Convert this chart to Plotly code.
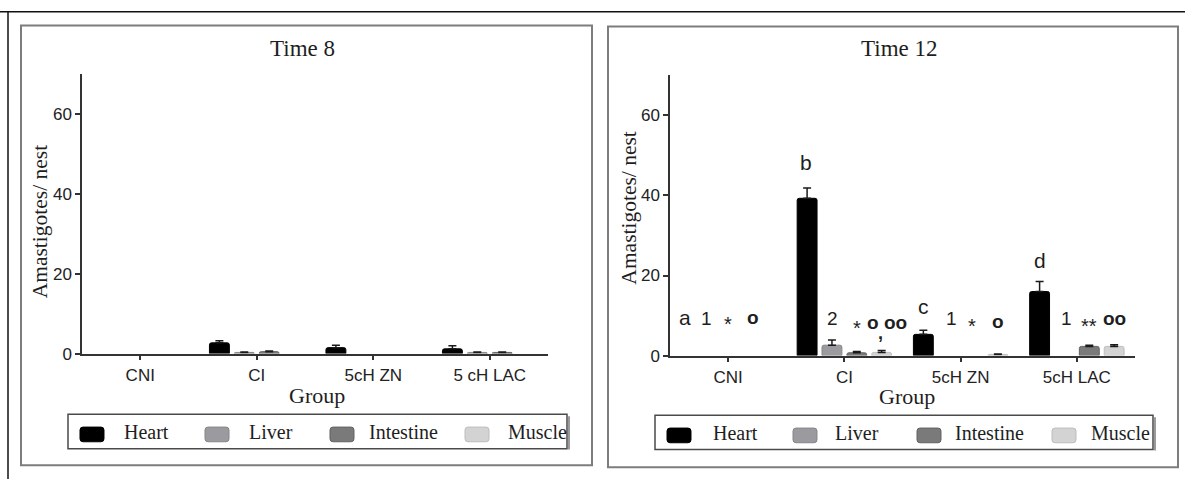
import plotly.graph_objects as go

W, H = 1185, 489

# ---------------- data ----------------
groups_t8 = ["CNI", "CI", "5cH ZN", "5 cH LAC"]
groups_t12 = ["CNI", "CI", "5cH ZN", "5cH LAC"]
tissues = ["Heart", "Liver", "Intestine", "Muscle"]

# Time 8 (mean, upper SEM)
heart_t8 = [None, 2.7, 1.5, 1.2]
heart_t8_err = [None, 0.5, 0.6, 0.8]
liver_t8 = [None, 0.3, None, 0.3]
liver_t8_err = [None, 0.1, None, 0.1]
intestine_t8 = [None, 0.5, None, 0.3]
intestine_t8_err = [None, 0.15, None, 0.1]
muscle_t8 = [None, None, None, None]
muscle_t8_err = [None, None, None, None]

# Time 12 (mean, upper SEM)
heart_t12 = [None, 39.3, 5.3, 16.0]
heart_t12_err = [None, 2.6, 1.0, 2.5]
liver_t12 = [None, 2.6, None, None]
liver_t12_err = [None, 1.3, None, None]
intestine_t12 = [None, 0.7, None, 2.3]
intestine_t12_err = [None, 0.3, None, 0.3]
muscle_t12 = [None, 0.8, 0.3, 2.3]
muscle_t12_err = [None, 0.5, 0.1, 0.4]

y_ticks = [0, 20, 40, 60]

# significance labels on the Time 12 panel
sig_text = ["a", "1", "*", "o",
            "b", "2", "*", "o", "oo", ",",
            "c", "1", "*", "o",
            "d", "1", "**", "oo"]
sig_group = [0, 0, 0, 0,
             1, 1, 1, 1, 1, 1,
             2, 2, 2, 2,
             3, 3, 3, 3]
sig_y = [9.6, 9.3, 7.8, 9.6,
         48.2, 9.3, 6.9, 8.3, 8.3, 5.6,
         12.2, 9.3, 7.5, 8.6,
         23.8, 9.3, 7.5, 9.3]

# ---------------- styles ----------------
fill_colors = ["#000000", "#9b9b9f", "#7a7a7a", "#d3d3d3"]
line_colors = ["#000000", "#86868a", "#626262", "#bdbdbd"]
sig_dx = [-43, -22, 0, 25,
          -38, -12, 13, 29, 51, 36,
          -37, -9, 11, 37,
          -37, -10, 12, 38]
SANS = "Liberation Sans, Arial, sans-serif"
SERIF = "Liberation Serif, Times New Roman, serif"


def px(x):
    return x / W


def py(y):
    return 1 - y / H


fig = go.Figure()

t8 = [(heart_t8, heart_t8_err), (liver_t8, liver_t8_err),
      (intestine_t8, intestine_t8_err), (muscle_t8, muscle_t8_err)]
t12 = [(heart_t12, heart_t12_err), (liver_t12, liver_t12_err),
       (intestine_t12, intestine_t12_err), (muscle_t12, muscle_t12_err)]

for (panel, groups, xa, ya) in [(t8, groups_t8, "x", "y"), (t12, groups_t12, "x2", "y2")]:
    for i, (vals, errs) in enumerate(panel):
        fig.add_trace(go.Bar(
            x=groups, y=vals, name=tissues[i], xaxis=xa, yaxis=ya,
            showlegend=False,
            marker=dict(color=fill_colors[i],
                        line=dict(color=line_colors[i], width=1),
                        cornerradius=2),
            error_y=dict(type="data", array=errs, arrayminus=[0] * len(errs),
                         symmetric=False, color="#1a1a1a", thickness=1.5, width=4),
        ))

axis_common = dict(showline=True, linecolor="#333333", linewidth=1.5,
                   ticks="outside", ticklen=5, tickwidth=1.5, tickcolor="#333333",
                   showgrid=False, zeroline=False,
                   tickfont=dict(family=SANS, size=17, color="#222222"))

fig.update_layout(
    width=W, height=H,
    margin=dict(l=0, r=0, t=0, b=0),
    paper_bgcolor="white", plot_bgcolor="white",
    barmode="group", bargap=0.145, bargroupgap=0.2,
    xaxis=dict(domain=[px(82), px(548)], anchor="y", type="category",
               range=[-0.5, 3.5], **axis_common),
    yaxis=dict(domain=[py(361), py(76)], anchor="x", range=[0, 70],
               tickvals=y_ticks, **axis_common),
    xaxis2=dict(domain=[px(670), px(1135)], anchor="y2", type="category",
                range=[-0.5, 3.5], **axis_common),
    yaxis2=dict(domain=[py(363), py(77)], anchor="x2", range=[0, 70],
                tickvals=y_ticks, **axis_common),
)

shapes = []
# outer frame (top and left)
shapes.append(dict(type="line", xref="paper", yref="paper", x0=0, x1=1,
                   y0=py(12), y1=py(12), line=dict(color="#111111", width=1.5)))
shapes.append(dict(type="line", xref="paper", yref="paper", x0=px(8), x1=px(8),
                   y0=py(12), y1=0, line=dict(color="#111111", width=1.5)))
# panel boxes
for (x0, y0, x1, y1) in [(21, 26, 592, 475), (608, 27, 1178, 477)]:
    shapes.append(dict(type="rect", xref="paper", yref="paper",
                       x0=px(x0), x1=px(x1), y0=py(y1), y1=py(y0),
                       line=dict(color="#7d7d7d", width=2)))
# legend boxes
for (x0, y0, x1, y1) in [(68, 423, 567, 458), (655, 424, 1153, 459)]:
    shapes.append(dict(type="line", xref="paper", yref="paper",
                       x0=px(x1 + 2), x1=px(x1 + 2), y0=py(y1 + 1), y1=py(y0 + 2),
                       line=dict(color="#9a9a9a", width=2)))
    shapes.append(dict(type="rect", xref="paper", yref="paper",
                       x0=px(x0), x1=px(x1), y0=py(y1), y1=py(y0),
                       line=dict(color="#4a4a4a", width=1.5)))


def rrect(x0, y0, x1, y1, r):
    pts = [("M", x0 + r, y0), ("L", x1 - r, y0), ("Q", x1, y0, x1, y0 + r),
           ("L", x1, y1 - r), ("Q", x1, y1, x1 - r, y1), ("L", x0 + r, y1),
           ("Q", x0, y1, x0, y1 - r), ("L", x0, y0 + r), ("Q", x0, y0, x0 + r, y0)]
    s = ""
    for p in pts:
        cmd = p[0]
        coords = p[1:]
        parts = []
        for k in range(0, len(coords), 2):
            parts.append(f"{px(coords[k]):.5f},{py(coords[k + 1]):.5f}")
        s += cmd + " ".join(parts) + " "
    return s + "Z"


annotations = []
legend_specs = [
    dict(sw=[80, 205, 330, 465], tx=[122, 247, 367, 506], y0=436, y1=451, ty=441),
    dict(sw=[667, 793, 917, 1052], tx=[711, 833, 953, 1089], y0=437, y1=452, ty=442),
]
for spec in legend_specs:
    for i in range(4):
        sx = spec["sw"][i]
        shapes.append(dict(type="path", xref="paper", yref="paper",
                           path=rrect(sx, spec["y0"], sx + 24, spec["y1"], 3),
                           fillcolor=fill_colors[i],
                           line=dict(color=line_colors[i], width=1)))
        annotations.append(dict(xref="paper", yref="paper", x=px(spec["tx"][i]),
                                y=py(spec["ty"]), xanchor="left", yanchor="middle",
                                text=tissues[i], showarrow=False,
                                font=dict(family=SERIF, size=20, color="#1e1e1e")))

# titles
for (txt, x, y) in [("Time 8", 302, 50), ("Time 12", 899, 50)]:
    annotations.append(dict(xref="paper", yref="paper", x=px(x), y=py(y),
                            xanchor="center", yanchor="middle", text=txt,
                            showarrow=False,
                            font=dict(family=SERIF, size=23, color="#1e1e1e")))
# axis titles
for (x, y) in [(40, 227), (629, 213)]:
    annotations.append(dict(xref="paper", yref="paper", x=px(x), y=py(y),
                            xanchor="center", yanchor="middle",
                            text="Amastigotes/ nest", textangle=-90, showarrow=False,
                            font=dict(family=SERIF, size=21.5, color="#1e1e1e")))
for (x, y) in [(317, 404), (907, 405)]:
    annotations.append(dict(xref="paper", yref="paper", x=px(x), y=py(y),
                            xanchor="center", yanchor="middle", text="Group",
                            showarrow=False,
                            font=dict(family=SERIF, size=22, color="#1e1e1e")))

# significance labels
for t, g, yv, dx in zip(sig_text, sig_group, sig_y, sig_dx):
    if t in ("o", "oo"):
        f = dict(family=SANS, size=19, color="#1e1e1e", weight="bold")
    elif t in ("*", "**"):
        f = dict(family=SANS, size=20, color="#1e1e1e")
    elif t.isdigit():
        f = dict(family=SANS, size=19, color="#1e1e1e")
    elif t == ",":
        f = dict(family=SANS, size=18, color="#1e1e1e", weight="bold")
    else:
        f = dict(family=SANS, size=21, color="#1e1e1e")
    annotations.append(dict(xref="x2", yref="y2", x=groups_t12[g], y=yv,
                            xshift=dx, xanchor="center", yanchor="middle",
                            text=t, showarrow=False, font=f))

fig.update_layout(shapes=shapes, annotations=annotations)
fig.write_html(
    "out.html",
    config=dict(displayModeBar=False),
    post_script="document.body.style.margin='0';document.body.style.overflow='hidden';",
)
